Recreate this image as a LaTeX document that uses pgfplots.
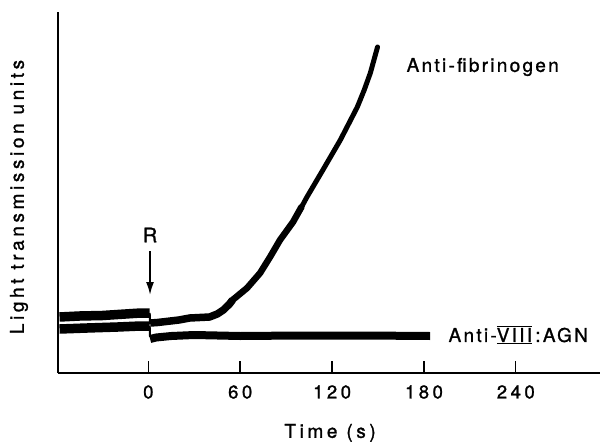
\documentclass[border=0pt]{standalone}
\usepackage{fontspec}
\setmainfont{TeX Gyre Heros}[LetterSpace=19, FakeBold=1.2]
\newfontfamily\annfont{TeX Gyre Heros}[LetterSpace=12, FakeBold=1.2]
\usepackage{pgfplots}
\pgfplotsset{compat=1.18}
\usetikzlibrary{arrows.meta}
\begin{document}
\begin{tikzpicture}
\path[use as bounding box] (-58pt,-72pt) rectangle (547pt,373pt);
\begin{axis}[
  scale only axis, width=542pt, height=361pt,
  xmin=-59, xmax=295, ymin=0, ymax=361,
  axis lines=left, axis line style={-, line width=1.6pt},
  xtick={0,60,120,180,240}, ytick=\empty,
  xtick align=inside, major tick length=12pt,
  tick style={line width=1.4pt, black},
  /pgf/number format/assume math mode=true,
  xticklabel style={font=\fontsize{18.5}{20}\selectfont, anchor=center, yshift=-19pt},
  xlabel={Time (s)},
  xlabel style={font=\fontsize{19}{22}\selectfont, at={(axis description cs:0.502,-0.166)}, anchor=center},
  ylabel={Light transmission units},
  ylabel style={font=\fontsize{19}{22}\selectfont, at={(axis description cs:-0.072,0.4875)}, anchor=center},
  clip=false,
  every axis plot/.append style={line join=round},
]
% Anti-fibrinogen trace
\addplot[black, line width=9.5pt] coordinates {(-58,56)(-45,57)(-30,57.5)(-15,59)(-5,60)(0.8,60)};
\addplot[black, line width=2pt] coordinates {(0.9,60)(1.1,49)};
\addplot[black, line width=7.5pt] coordinates {(1.2,50)(6,50.5)(20,53)(27,55)(40,56)(45,59)(49,63)(53,69)(55,73)};
\addplot[black, line width=6.5pt, line cap=round] coordinates {(54,71.5)(55,73)(64.5,85)(73,100)(79.5,116)(86,133)(94.5,151)(100,166)};
\addplot[black, line width=5pt, line cap=round] coordinates {(99,163)(103.6,176)(114,203)(125.4,233)(136.5,266)(141,283)(145,300)(149.7,326)};
% Anti-VIII:AGN trace
\addplot[black, line width=9.5pt] coordinates {(-58,44)(-40,45)(-20,46)(-5,47)(0.8,47)};
\addplot[black, line width=2pt] coordinates {(0.9,47)(1.1,36)};
\addplot[black, line width=8pt] coordinates {(1.2,34)(5,35.5)(15,37)(30,38)(60,37)(100,37.5)(140,37.5)(184,37)};
\node[anchor=west, font=\annfont\fontsize{19}{22}\selectfont] at (axis cs:166.4,306) {Anti-fibrinogen};
\node[anchor=west, font=\annfont\fontsize{19}{22}\selectfont] at (axis cs:193.8,38) {Anti-$\overline{\underline{\mbox{VIII}}}$\,:AGN};
\node[font=\fontsize{20}{22}\selectfont] at (axis cs:1.1,138) {R};
\draw[-{Latex[length=13pt,width=8pt]}, line width=1.8pt] (axis cs:1.1,122) -- (axis cs:1.1,78);
\end{axis}
\end{tikzpicture}
\end{document}
